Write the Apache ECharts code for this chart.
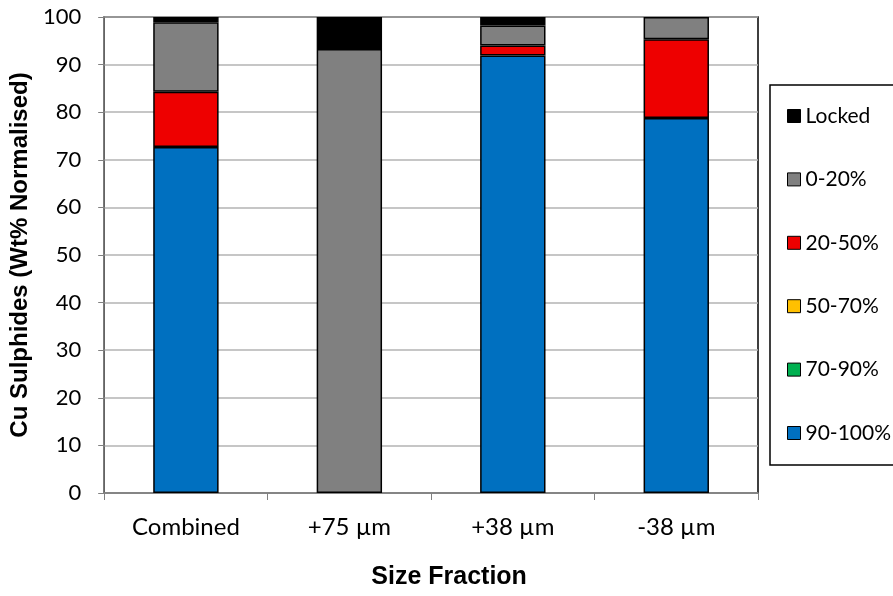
<!DOCTYPE html>
<html><head><meta charset="utf-8">
<script src="https://cdn.jsdelivr.net/npm/echarts@6/dist/echarts.min.js"></script>
<style>html,body{margin:0;padding:0;background:#fff}#c{width:893px;height:596px}</style>
</head><body><div id="c"></div>
<script>
const categories = ['Combined', '+75 µm', '+38 µm', '-38 µm'];
const s90_100 = [72.7, 0, 91.9, 78.8];
const s70_90 = [0, 0, 0, 0];
const s50_70 = [0, 0, 0, 0];
const s20_50 = [11.6, 0, 2.1, 16.5];
const s0_20 = [14.6, 93.3, 4.2, 4.7];
const sLocked = [1.1, 6.7, 1.8, 0];
const yTicks = [0, 10, 20, 30, 40, 50, 60, 70, 80, 90, 100];

const seriesDefs = [
  ['90-100%', s90_100, '#0070C0'],
  ['70-90%', s70_90, '#00B050'],
  ['50-70%', s50_70, '#FFC000'],
  ['20-50%', s20_50, '#EE0000'],
  ['0-20%', s0_20, '#808080'],
  ['Locked', sLocked, '#000000']
];
const font = 'Lato, "Open Sans", sans-serif';
const boldFont = '"Liberation Sans", Arial, sans-serif';
const chart = echarts.init(document.getElementById('c'), null, {renderer: 'canvas'});
chart.setOption({
  animation: false,
  grid: {left: 104, right: 135, top: 17, bottom: 103, show: true, borderColor: '#000', borderWidth: 1.5, backgroundColor: 'transparent'},
  legend: {
    orient: 'vertical', left: 770, top: 85,
    data: seriesDefs.map(d => d[0]).reverse(),
    icon: 'rect', itemWidth: 13, itemHeight: 13, itemGap: 42.4,
    padding: [20.5, 60, 21.5, 17],
    borderColor: '#000', borderWidth: 1.5,
    itemStyle: {borderColor: '#000', borderWidth: 1},
    textStyle: {fontFamily: font, fontSize: 21, color: '#000'},
    selectedMode: false
  },
  xAxis: {
    type: 'category', data: categories,
    name: 'Size Fraction', nameLocation: 'middle', nameGap: 72,
    nameTextStyle: {fontFamily: boldFont, fontWeight: 'bold', fontSize: 25, color: '#000', padding: [0, 0, 0, 36]},
    axisLine: {lineStyle: {color: '#808080', width: 1.5}},
    axisTick: {show: true, length: 7, lineStyle: {color: '#808080'}},
    axisLabel: {fontFamily: font, fontSize: 24, color: '#000', margin: 22}
  },
  yAxis: {
    type: 'value', min: 0, max: 100, interval: 10,
    name: 'Cu Sulphides (Wt% Normalised)', nameLocation: 'middle', nameGap: 70,
    nameTextStyle: {fontFamily: boldFont, fontWeight: 'bold', fontSize: 24, color: '#000'},
    axisLine: {show: true, lineStyle: {color: '#808080', width: 1.5}},
    axisTick: {show: true, length: 6, lineStyle: {color: '#808080'}},
    axisLabel: {fontFamily: font, fontSize: 22, color: '#000', margin: 23,
      formatter: v => yTicks.includes(v) ? String(v) : ''},
    splitLine: {show: true, lineStyle: {color: '#b3b3b3', width: 1.5}}
  },
  series: seriesDefs.map(d => ({
    name: d[0], type: 'bar', stack: 'total', barWidth: '40%',
    data: d[1].map(v => v === 0 ? '-' : v),
    itemStyle: {color: d[2], borderColor: '#000', borderWidth: 1.5}
  }))
});
</script></body></html>
